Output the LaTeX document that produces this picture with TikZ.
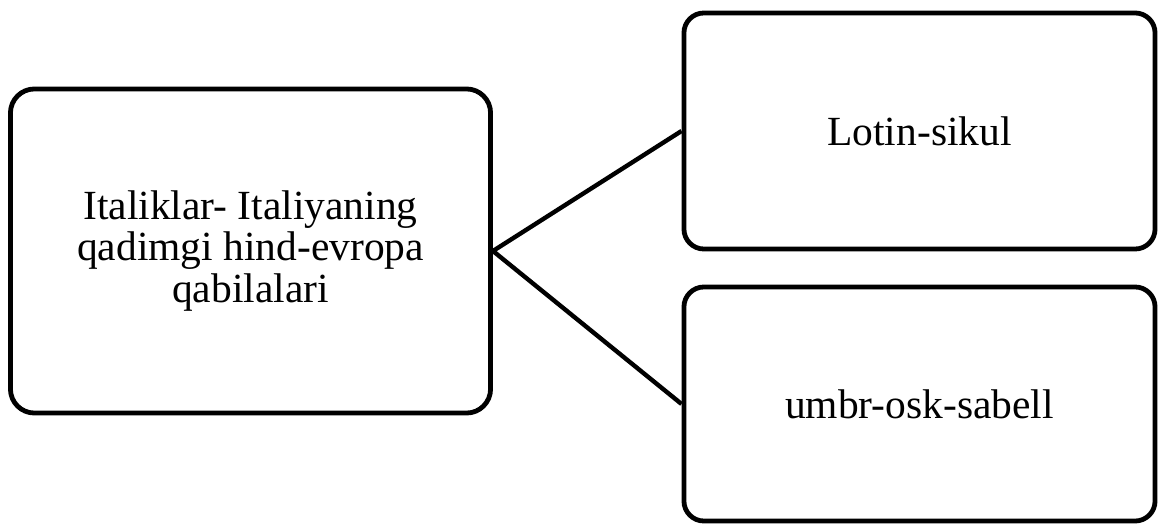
\documentclass[tikz,border=0pt]{standalone}
\usepackage{fontspec}
\setmainfont{Liberation Serif}
\usetikzlibrary{positioning}
\tikzset{
	qbox/.style={draw=black, line width=0.12cm, rounded corners=0.6cm, align=center,
		font=\fontsize{29.5}{29.5}\selectfont, inner sep=0pt},
	qline/.style={line width=0.11cm}
}

\begin{document}
\begin{tikzpicture}[x=0.025cm, y=-0.025cm]
				\useasboundingbox (0,0) rectangle (1159,525);
				
				\node[qbox, minimum width=12cm, minimum height=8.1cm] (italik) at (250.5,251) {Italiklar- Italiyaning\\qadimgi hind-evropa\\qabilalari};
				
				\node[qbox, rounded corners=0.5cm, minimum width=11.775cm, minimum height=5.9cm] (lotin) at (919.5,131) {Lotin-sikul};
				\node[qbox, rounded corners=0.5cm, minimum width=11.775cm, minimum height=5.85cm] (umbr) at (919.5,404) {umbr-osk-sabell};
				
				\draw[qline] (lotin.west) -- (italik.east) -- (umbr.west);
			\end{tikzpicture}
\end{document}
